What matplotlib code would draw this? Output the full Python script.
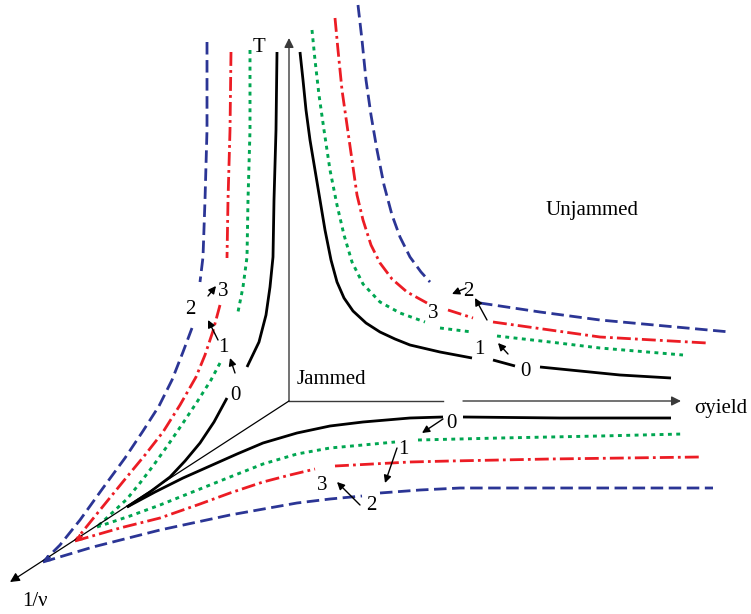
import numpy as np
import matplotlib
matplotlib.use('Agg')
import matplotlib.pyplot as plt

plt.rcParams['lines.scale_dashes'] = False
plt.rcParams['font.family'] = ['Liberation Serif', 'DejaVu Serif']

nan = np.nan

# ---------------- data (picture units: x to the right, y downward) ----------------
# T - 1/nu plane (left)
tl_black_x = [277, 276, 274, 273, 270, 266, 259, 247, nan, 227, 214, 200, 185, 170, 150, 127]
tl_black_y = [52, 130, 200, 257, 287, 315, 342, 367, nan, 398, 422, 443, 461, 477, 492, 507]
tl_green_x = [250, 250, 248, 247, 243, 238, nan, 220, 211, 197, 183, 168, 153, 140, 127, 112, 97]
tl_green_y = [50, 130, 200, 257, 287, 312, nan, 363, 380, 402, 423, 445, 466, 483, 499, 513, 527]
tl_red_x = [231, 230, 228, 227, nan, 220, 213, 205, 196, 180, 163, 145, 126, 100, 75]
tl_red_y = [52, 130, 200, 258, nan, 305, 331, 355, 377, 405, 432, 455, 478, 510, 541]
tl_blue_x = [207, 207, 205, 203, 200, nan, 192, 183, 172, 159, 143, 125, 103, 80, 60, 43]
tl_blue_y = [42, 130, 200, 257, 282, nan, 328, 352, 380, 406, 431, 458, 488, 520, 545, 562]

# T - sigma_yield plane (upper right)
tr_black_x = [300, 303, 306, 310, 315, 320, 325, 331, 337, 344, 353, 366, 380, 395, 410, 440, 472,
              nan, 493, 515, nan, 540, 580, 620, 671]
tr_black_y = [52, 80, 110, 140, 170, 200, 230, 260, 282, 298, 311, 323, 332, 339, 345, 352, 358,
              nan, 360, 366, nan, 367, 371, 375, 378]
tr_green_x = [312, 315, 319, 324, 330, 337, 344, 352, 363, 380, 400, 425, nan, 440, 472,
              nan, 497, 550, 600, 683]
tr_green_y = [30, 60, 95, 130, 170, 205, 235, 262, 284, 302, 313, 322, nan, 328, 332,
              nan, 336, 342, 348, 355]
tr_red_x = [335, 338, 342, 347, 352, 357, 363, 371, 380, 392, 407, 427, nan, 448, 473,
            nan, 493, 550, 600, 707]
tr_red_y = [18, 50, 90, 125, 160, 195, 220, 245, 263, 279, 292, 303, nan, 310, 318,
            nan, 322, 330, 337, 343]
tr_blue_x = [358, 362, 366, 371, 377, 384, 392, 400, 410, 421, 430, nan, 480, 540, 600, 730]
tr_blue_y = [5, 40, 80, 115, 150, 185, 215, 237, 257, 272, 282, nan, 303, 312, 320, 332]

# sigma_yield - 1/nu plane (bottom)
bt_black_x = [127, 155, 183, 210, 237, 263, 297, 330, 363, 410, 443, nan, 463, 560, 671]
bt_black_y = [507, 492, 478, 466, 454, 443, 433, 426, 422, 418, 417, nan, 417, 418, 418]
bt_green_x = [97, 130, 160, 195, 230, 263, 297, 330, 363, 395, nan, 418, 500, 600, 683]
bt_green_y = [527, 516, 505, 491, 477, 464, 454, 448, 445, 442, nan, 440, 438, 436, 434]
bt_red_x = [75, 120, 160, 200, 230, 263, 290, 315, nan, 335, 410, 450, 550, 700]
bt_red_y = [541, 528, 518, 504, 493, 482, 475, 469, nan, 466, 462, 461, 459, 457]
bt_blue_x = [43, 93, 160, 230, 297, 330, 362, nan, 380, 420, 460, 550, 713]
bt_blue_y = [562, 547, 530, 515, 503, 499, 496, nan, 493, 490, 488, 488, 488]

# axes: origin and tips
axis_origin = (289, 401)
T_tip = (289, 38)
sigma_tip = (681, 401)
sigma_gap = (443, 463)
nu_tip = (10, 582)

# numeric labels (text, x, y)
num_labels = [
    ('3', 223, 292), ('2', 190, 310), ('1', 223, 348), ('0', 235, 396),
    ('2', 468, 292), ('3', 433, 313), ('1', 479, 349), ('0', 525, 372),
    ('0', 451, 423), ('1', 403, 450), ('3', 322, 485), ('2', 371, 505),
]
# small arrows (tail x, tail y, head x, head y)
small_arrows = [
    (208, 296, 216, 286), (218, 340, 208, 320), (235, 373, 230, 358),
    (466, 288, 452, 294), (487, 320, 475, 298), (508, 354, 498, 343),
    (443, 419, 422, 433), (397, 448, 385, 483), (360, 505, 337, 482),
]

# ---------------- drawing ----------------
fig = plt.figure(figsize=(7.51, 6.14), dpi=100)
ax = fig.add_axes([0, 0, 1, 1])
ax.set_xlim(0, 751)
ax.set_ylim(614, 0)
ax.axis('off')

BLUE = '#2b3595'
RED = '#ec1c24'
GREEN = '#00a651'
styles = {
    'black': dict(color='black', lw=2.0, ls='-', solid_capstyle='butt', solid_joinstyle='round'),
    'green': dict(color=GREEN, lw=2.1, dashes=(2.8, 3.2), dash_capstyle='butt'),
    'red': dict(color=RED, lw=2.0, dashes=(10, 3, 2, 3), dash_capstyle='butt'),
    'blue': dict(color=BLUE, lw=2.0, dashes=(9, 4), dash_capstyle='butt'),
}
curves = [
    ('black', tl_black_x, tl_black_y), ('green', tl_green_x, tl_green_y),
    ('red', tl_red_x, tl_red_y), ('blue', tl_blue_x, tl_blue_y),
    ('black', tr_black_x, tr_black_y), ('green', tr_green_x, tr_green_y),
    ('red', tr_red_x, tr_red_y), ('blue', tr_blue_x, tr_blue_y),
    ('black', bt_black_x, bt_black_y), ('green', bt_green_x, bt_green_y),
    ('red', bt_red_x, bt_red_y), ('blue', bt_blue_x, bt_blue_y),
]
for key, xs, ys in curves:
    ax.plot(xs, ys, **styles[key], zorder=3)

axc = '#3a3a3a'
# T axis
ax.annotate('', xy=T_tip, xytext=axis_origin,
            arrowprops=dict(arrowstyle='-|>', color=axc, lw=1.0, mutation_scale=14,
                            shrinkA=0, shrinkB=0))
# sigma axis with a small gap
ax.plot([axis_origin[0], sigma_gap[0]], [axis_origin[1], axis_origin[1]], color=axc, lw=1.0)
ax.annotate('', xy=sigma_tip, xytext=(sigma_gap[1], axis_origin[1]),
            arrowprops=dict(arrowstyle='-|>', color=axc, lw=1.0, mutation_scale=14,
                            shrinkA=0, shrinkB=0))
# 1/nu axis
ax.annotate('', xy=nu_tip, xytext=axis_origin,
            arrowprops=dict(arrowstyle='-|>', color='black', lw=0.9, mutation_scale=14,
                            shrinkA=0, shrinkB=0))
# small arrowheads at the convergence points on the 1/nu axis
d = np.array(nu_tip, float) - np.array(axis_origin, float)
d /= np.hypot(*d)
for (px, py), col in [((tl_red_x[-1], tl_red_y[-1]), RED), ((tl_blue_x[-1], tl_blue_y[-1]), BLUE)]:
    ax.annotate('', xy=(px, py), xytext=(px - 9 * d[0], py - 9 * d[1]),
                arrowprops=dict(arrowstyle='-|>', color=col, lw=0.8, mutation_scale=11,
                                shrinkA=0, shrinkB=0), zorder=4)

# labels
fs_word = 15
ax.text(253, 47, 'T', fontsize=fs_word, ha='left', va='center')
ax.text(297, 380, 'Jammed', fontsize=fs_word, ha='left', va='center')
ax.text(545, 210, 'Unjammed', fontsize=fs_word, ha='left', va='center')
ax.text(694, 408, 'σyield', fontsize=fs_word, ha='left', va='center')
ax.text(22, 602, '1/ν', fontsize=fs_word, ha='left', va='center')

for t, x, y in num_labels:
    ax.text(x, y, t, fontsize=15, ha='center', va='center')

for x0, y0, x1, y1 in small_arrows:
    ax.annotate('', xy=(x1, y1), xytext=(x0, y0),
                arrowprops=dict(arrowstyle='-|>', color='black', lw=1.0, mutation_scale=11,
                                shrinkA=0, shrinkB=0))

fig.savefig('out.png', dpi=100)
